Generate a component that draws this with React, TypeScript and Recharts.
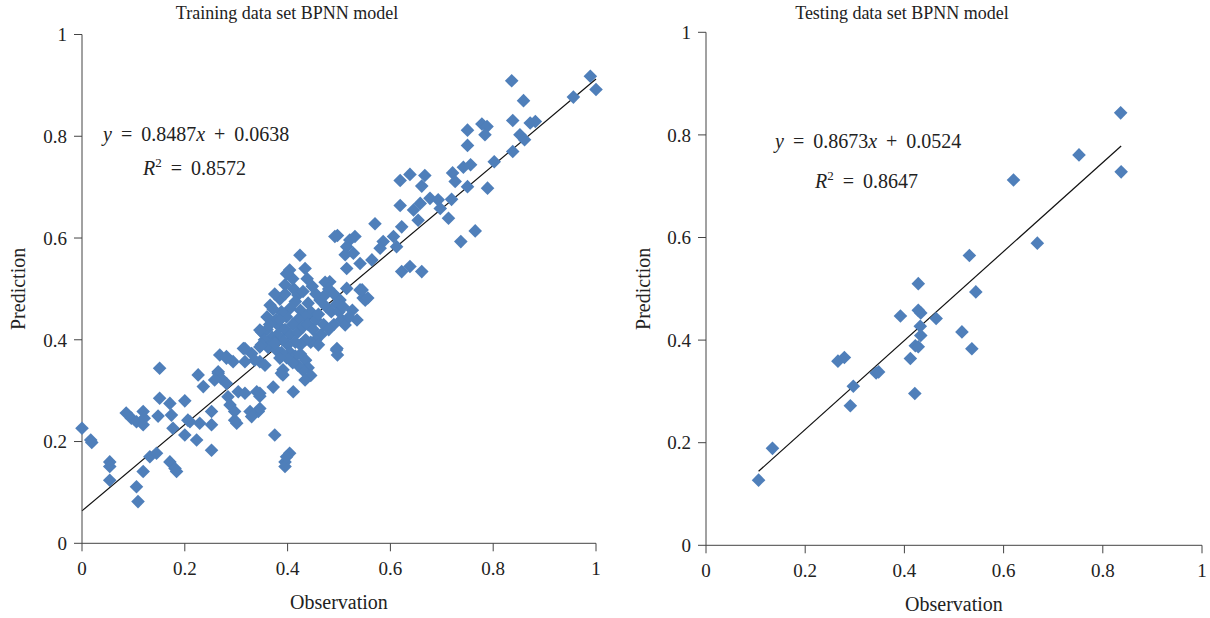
import { Label, ReferenceLine, Scatter, ScatterChart, XAxis, YAxis } from 'recharts';

const ticks = [0, 0.2, 0.4, 0.6, 0.8, 1];

// training set: observation / prediction pairs
const trainObs = [
  0.836, 0.989, 1.0, 0.956, 0.859, 0.838, 0.872, 0.882, 0.852, 0.861, 0.838, 0.778, 0.788, 0.784, 0.75, 0.75,
  0.802, 0.742, 0.756, 0.721, 0.726, 0.75, 0.789, 0.619, 0.638, 0.667, 0.661, 0.619, 0.645, 0.658, 0.677, 0.693,
  0.697, 0.719, 0.713, 0.654, 0.57, 0.622, 0.606, 0.586, 0.58, 0.612, 0.765, 0.737, 0.497, 0.521, 0.531, 0.515,
  0.512, 0.528, 0.541, 0.515, 0.564, 0.622, 0.638, 0.661, 0.482, 0.515, 0.541, 0.547, 0.502,
  0.424, 0.434, 0.404, 0.395, 0.412, 0.42, 0.43, 0.44, 0.415, 0.405, 0.425, 0.445, 0.435, 0.42, 0.41, 0.398,
  0.388, 0.378, 0.366, 0.372, 0.385, 0.395, 0.405, 0.42, 0.43, 0.44, 0.45, 0.455, 0.46, 0.47, 0.465, 0.455,
  0.445, 0.435, 0.425, 0.415, 0.4, 0.39, 0.38, 0.37, 0.36, 0.35, 0.346, 0.355, 0.362, 0.405, 0.415, 0.425,
  0.435, 0.44, 0.43, 0.42, 0.445, 0.41, 0.398, 0.388, 0.378, 0.473, 0.48, 0.49, 0.463, 0.475, 0.485, 0.495,
  0.5, 0.505, 0.512, 0.526, 0.535, 0.52, 0.49, 0.48, 0.492, 0.496, 0.497, 0.551, 0.545, 0.556, 0.508, 0.47,
  0.455, 0.448, 0.438, 0.41, 0.398, 0.385, 0.395, 0.375, 0.36, 0.365,
  0.385, 0.375, 0.349, 0.314, 0.281, 0.294, 0.265, 0.346, 0.33, 0.317, 0.46, 0.495, 0.372, 0.411, 0.434, 0.391,
  0.391, 0.343, 0.346, 0.375, 0.404, 0.395, 0.395, 0.398,
  0.0, 0.017, 0.019, 0.054, 0.054, 0.054, 0.151, 0.086, 0.096, 0.106, 0.119, 0.119, 0.121, 0.151, 0.148, 0.171,
  0.174, 0.177, 0.2, 0.2, 0.21, 0.223, 0.226, 0.236, 0.229, 0.252, 0.252, 0.252, 0.132, 0.145, 0.119, 0.106,
  0.109, 0.171, 0.181, 0.184, 0.268, 0.281, 0.317, 0.346, 0.336, 0.356, 0.375, 0.385, 0.388, 0.265, 0.271, 0.258,
  0.281, 0.284, 0.304, 0.317, 0.34, 0.346, 0.288, 0.297, 0.301, 0.297, 0.327, 0.346, 0.33, 0.206,
];
const trainPred = [
  0.909, 0.918, 0.892, 0.877, 0.87, 0.831, 0.826, 0.829, 0.803, 0.793, 0.77, 0.824, 0.819, 0.803, 0.812, 0.782,
  0.75, 0.739, 0.744, 0.728, 0.711, 0.701, 0.698, 0.713, 0.725, 0.723, 0.702, 0.664, 0.655, 0.668, 0.678, 0.675,
  0.658, 0.676, 0.639, 0.635, 0.628, 0.622, 0.603, 0.593, 0.58, 0.583, 0.614, 0.593, 0.605, 0.596, 0.603, 0.583,
  0.567, 0.57, 0.55, 0.54, 0.557, 0.534, 0.544, 0.534, 0.514, 0.501, 0.498, 0.482, 0.478,
  0.566, 0.54, 0.537, 0.508, 0.5, 0.488, 0.495, 0.472, 0.475, 0.462, 0.458, 0.455, 0.445, 0.44, 0.43, 0.445,
  0.455, 0.44, 0.468, 0.46, 0.425, 0.42, 0.41, 0.415, 0.425, 0.43, 0.42, 0.44, 0.45, 0.43, 0.41, 0.4,
  0.395, 0.4, 0.39, 0.395, 0.39, 0.4, 0.41, 0.405, 0.42, 0.415, 0.419, 0.4, 0.385, 0.375, 0.368, 0.372,
  0.36, 0.345, 0.34, 0.35, 0.33, 0.355, 0.365, 0.375, 0.38, 0.513, 0.5, 0.49, 0.478, 0.465, 0.455, 0.47,
  0.455, 0.44, 0.429, 0.458, 0.439, 0.445, 0.43, 0.42, 0.603, 0.383, 0.37, 0.478, 0.498, 0.482, 0.465, 0.485,
  0.49, 0.505, 0.52, 0.52, 0.53, 0.48, 0.49, 0.49, 0.445, 0.43,
  0.439, 0.396, 0.39, 0.383, 0.367, 0.357, 0.337, 0.357, 0.373, 0.357, 0.39, 0.38, 0.307, 0.298, 0.321, 0.341,
  0.331, 0.259, 0.295, 0.213, 0.177, 0.16, 0.151, 0.17,
  0.226, 0.203, 0.198, 0.16, 0.151, 0.124, 0.344, 0.256, 0.246, 0.239, 0.259, 0.233, 0.246, 0.285, 0.25, 0.275,
  0.252, 0.226, 0.28, 0.213, 0.239, 0.203, 0.331, 0.308, 0.236, 0.259, 0.233, 0.183, 0.17, 0.177, 0.141, 0.111,
  0.082, 0.16, 0.147, 0.141, 0.37, 0.364, 0.383, 0.386, 0.36, 0.35, 0.393, 0.364, 0.334, 0.334, 0.324, 0.321,
  0.314, 0.288, 0.298, 0.295, 0.298, 0.289, 0.272, 0.259, 0.236, 0.242, 0.259, 0.265, 0.249, 0.242,
];

// testing set
const testObs = [
  0.836, 0.752, 0.837, 0.62, 0.668, 0.531, 0.544, 0.428, 0.392, 0.428, 0.433, 0.464, 0.432, 0.433, 0.516, 0.536,
  0.422, 0.428, 0.412, 0.266, 0.279, 0.343, 0.348, 0.297, 0.291, 0.421, 0.134, 0.106,
];
const testPred = [
  0.843, 0.761, 0.728, 0.712, 0.589, 0.565, 0.494, 0.51, 0.447, 0.458, 0.453, 0.442, 0.427, 0.409, 0.416, 0.383,
  0.389, 0.387, 0.364, 0.359, 0.366, 0.336, 0.338, 0.31, 0.272, 0.296, 0.189, 0.127,
];

// fitted trend lines (slope, intercept, x range)
const trainFit = { slope: 0.8487, intercept: 0.0638, from: 0, to: 1 };
const testFit = { slope: 0.8673, intercept: 0.0524, from: 0.106, to: 0.837 };

const trainData = trainObs.map((x, i) => ({ x, y: trainPred[i] }));
const testData = testObs.map((x, i) => ({ x, y: testPred[i] }));

const font = "'Liberation Serif', 'DejaVu Serif', serif";
const axisColor = '#444';
const markColor = '#4F7FBA';

const fmt = (v: number) => (v === 0 ? '0' : v === 1 ? '1' : v.toFixed(1));

const Diamond = (props: any) => {
  const { cx, cy } = props;
  const r = 6.8;
  return <polygon points={`${cx},${cy - r} ${cx + r},${cy} ${cx},${cy + r} ${cx - r},${cy}`} fill={markColor} />;
};

interface PanelProps {
  data: { x: number; y: number }[];
  fit: { slope: number; intercept: number; from: number; to: number };
  width: number;
  top: number;
  bottom: number;
  right: number;
  yAxisWidth: number;
  yLabelOffset: number;
}

const Panel = ({ data, fit, width, top, bottom, right, yAxisWidth, yLabelOffset }: PanelProps) => {
  const tickStyle = { fontFamily: font, fontSize: 19, fill: '#222' };
  return (
    <ScatterChart width={width} height={618} margin={{ top, right, bottom, left: 0 }}>
      <XAxis
        type="number"
        dataKey="x"
        domain={[0, 1]}
        ticks={ticks}
        tickFormatter={fmt}
        tickSize={8}
        tickMargin={10}
        height={70}
        tick={tickStyle}
        stroke={axisColor}
        interval={0}
      >
        <Label
          value="Observation"
          position="insideBottom"
          offset={4}
          style={{ fontFamily: font, fontSize: 20, fill: '#222' }}
        />
      </XAxis>
      <YAxis
        type="number"
        dataKey="y"
        domain={[0, 1]}
        ticks={ticks}
        tickFormatter={fmt}
        tickSize={8}
        tickMargin={7}
        width={yAxisWidth}
        tick={tickStyle}
        stroke={axisColor}
        interval={0}
      >
        <Label
          value="Prediction"
          angle={-90}
          position="insideLeft"
          offset={yLabelOffset}
          style={{ fontFamily: font, fontSize: 20, fill: '#222', textAnchor: 'middle' }}
        />
      </YAxis>
      <Scatter data={data} shape={Diamond} isAnimationActive={false} />
      <ReferenceLine
        segment={[
          { x: fit.from, y: fit.intercept + fit.slope * fit.from },
          { x: fit.to, y: fit.intercept + fit.slope * fit.to },
        ]}
        stroke="#111"
        strokeWidth={1.2}
      />
    </ScatterChart>
  );
};

const eqStyle: React.CSSProperties = {
  position: 'absolute',
  fontFamily: font,
  fontSize: 20,
  color: '#222',
  whiteSpace: 'pre',
  lineHeight: '24px',
  wordSpacing: 4,
};

export default function App() {
  return (
    <div style={{ position: 'absolute', left: 0, top: 0, width: 1210, height: 618, background: '#fff', fontFamily: font }}>
      <div style={{ position: 'absolute', left: 0, top: 0 }}>
        <Panel data={trainData} fit={trainFit} width={610} top={34.5} bottom={4.7} right={14} yAxisWidth={82} yLabelOffset={18} />
      </div>
      <div style={{ position: 'absolute', left: 610, top: 0 }}>
        <Panel data={testData} fit={testFit} width={600} top={32.3} bottom={2.7} right={8} yAxisWidth={96} yLabelOffset={33} />
      </div>

      <div style={{ position: 'absolute', left: 87, width: 400, top: 3, textAlign: 'center', fontSize: 18, color: '#222' }}>
        Training data set BPNN model
      </div>
      <div style={{ position: 'absolute', left: 702, width: 400, top: 3, textAlign: 'center', fontSize: 18, color: '#222' }}>
        Testing data set BPNN model
      </div>

      <div style={{ ...eqStyle, left: 103, top: 122 }}>
        <i>y</i> = 0.8487<i>x</i> + 0.0638
      </div>
      <div style={{ ...eqStyle, left: 143, top: 151 }}>
        <i>R</i>
        <sup style={{ fontSize: 13 }}>2</sup> = 0.8572
      </div>
      <div style={{ ...eqStyle, left: 775, top: 129 }}>
        <i>y</i> = 0.8673<i>x</i> + 0.0524
      </div>
      <div style={{ ...eqStyle, left: 815, top: 164 }}>
        <i>R</i>
        <sup style={{ fontSize: 13 }}>2</sup> = 0.8647
      </div>
    </div>
  );
}
